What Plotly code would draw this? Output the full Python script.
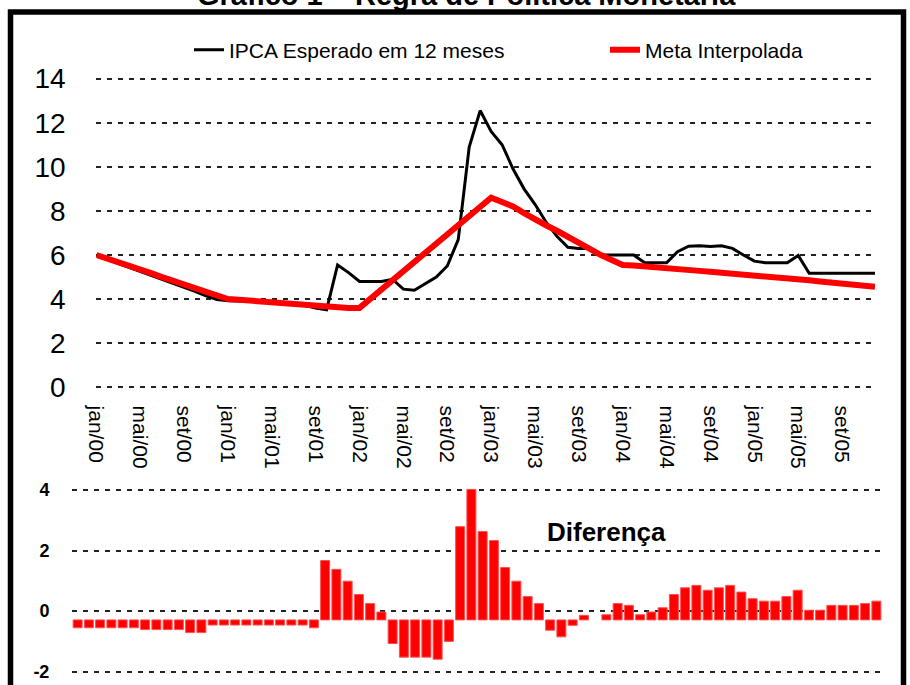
import plotly.graph_objects as go

# eixo de meses jan/00 .. dez/05
MESES = ['jan', 'fev', 'mar', 'abr', 'mai', 'jun', 'jul', 'ago', 'set', 'out', 'nov', 'dez']
ANOS = ['00', '01', '02', '03', '04', '05']
meses = [f'{m}/{a}' for a in ANOS for m in MESES]
rotulos = meses[::4]

# IPCA esperado em 12 meses
ipca = [5.98, 5.8, 5.62, 5.45, 5.28, 5.1, 4.9, 4.72, 4.55, 4.35, 4.15, 3.98,
        3.92, 3.92, 3.9, 3.88, 3.86, 3.82, 3.78, 3.72, 3.6, 3.52, 5.55, 5.2,
        4.8, 4.8, 4.8, 4.9, 4.45, 4.4, 4.7, 5.0, 5.5, 6.7, 10.9, 12.55,
        11.6, 11.0, 9.9, 9.0, 8.3, 7.5, 6.85, 6.35, 6.3, 6.3, 6.0, 6.0,
        6.0, 6.0, 5.65, 5.65, 5.65, 6.15, 6.4, 6.42, 6.38, 6.42, 6.3, 6.0,
        5.72, 5.65, 5.65, 5.65, 5.98, 5.17, 5.17, 5.17, 5.17, 5.17, 5.17, 5.17]

# meta interpolada
meta = [6.0, 5.85, 5.68, 5.5, 5.34, 5.18, 5.0, 4.84, 4.68, 4.5, 4.34, 4.18,
        4.0, 3.97, 3.93, 3.88, 3.85, 3.8, 3.76, 3.72, 3.68, 3.64, 3.6, 3.6,
        3.6, 4.02, 4.44, 4.86, 5.28, 5.7, 6.12, 6.54, 6.96, 7.38, 7.8, 8.2,
        8.6, 8.4, 8.2, 7.9, 7.6, 7.35, 7.1, 6.8, 6.55, 6.28, 6.0, 5.75,
        5.55, 5.52, 5.49, 5.45, 5.4, 5.36, 5.32, 5.28, 5.24, 5.2, 5.17, 5.14,
        5.11, 5.06, 5.0, 4.96, 4.9, 4.85, 4.8, 4.75, 4.7, 4.65, 4.6, 4.56]

# diferenca (painel de baixo)
diferenca = [-0.26, -0.26, -0.26, -0.26, -0.26, -0.26, -0.32, -0.32, -0.32, -0.32, -0.42, -0.42,
             -0.17, -0.17, -0.17, -0.17, -0.17, -0.17, -0.17, -0.17, -0.17, -0.26, 1.96, 1.67,
             1.28, 0.84, 0.54, 0.26, -0.78, -1.23, -1.23, -1.23, -1.3, -0.71, 3.08, 4.31,
             2.92, 2.62, 1.73, 1.28, 0.77, 0.54, -0.34, -0.56, -0.18, 0.15, None, 0.17,
             0.54, 0.48, 0.17, 0.26, 0.4, 0.84, 1.06, 1.14, 0.98, 1.06, 1.14, 0.92,
             0.7, 0.62, 0.62, 0.77, 0.98, 0.32, 0.32, 0.48, 0.48, 0.48, 0.54, 0.62]
dif_ticks = [-2, 0, 2, 4]

ARIAL = 'Liberation Sans, Arial, sans-serif'
W, H = 910, 685
# no original as barras partem um pouco abaixo da linha do zero
ZERO_BARRAS = -0.29
GRID = dict(showgrid=True, gridcolor='#222', gridwidth=2, griddash='5px,6px',
            zeroline=False, automargin=False)

fig = go.Figure()
fig.add_trace(go.Scatter(x=meses, y=ipca, name='IPCA Esperado em 12 meses', mode='lines',
                         xaxis='x', yaxis='y', line=dict(color='black', width=3)))
fig.add_trace(go.Scatter(x=meses, y=meta, name='Meta Interpolada', mode='lines',
                         xaxis='x', yaxis='y', line=dict(color='#ff0000', width=6)))
fig.add_trace(go.Bar(x=meses, y=diferenca, base=ZERO_BARRAS, xaxis='x2', yaxis='y2', showlegend=False,
                     marker=dict(color='#ff0000', line=dict(color='#ff5050', width=1))))

fig.update_layout(
    template='none',
    width=W, height=H, margin=dict(l=0, r=0, t=0, b=0, autoexpand=False),
    plot_bgcolor='white', paper_bgcolor='white', bargap=0.2,
    font=dict(family=ARIAL, color='black'),
    xaxis=dict(domain=[96.3 / W, 875 / W], anchor='y', type='category',
               tickmode='array', tickvals=rotulos, ticktext=rotulos, tickangle=90,
               ticks='outside', ticklen=12, tickcolor='rgba(0,0,0,0)',
               tickfont=dict(size=21), showgrid=False, showline=False, automargin=False),
    yaxis=dict(domain=[1 - 388.4 / H, 1 - 77.5 / H], anchor='x', range=[-0.05, 14.05],
               tickvals=[0, 2, 4, 6, 8, 10, 12, 14], ticks='outside', ticklen=24,
               tickcolor='rgba(0,0,0,0)', tickfont=dict(size=28), **GRID),
    xaxis2=dict(domain=[72 / W, 882 / W], anchor='y2', type='category',
                showticklabels=False, showgrid=False, showline=False, automargin=False),
    yaxis2=dict(domain=[1 - 674.7 / H, 1 - 487 / H], anchor='x2', range=[-2.1, 4.1],
                tickvals=dif_ticks, ticktext=[f'<b>{v}</b>' for v in dif_ticks],
                ticks='outside', ticklen=18, tickcolor='rgba(0,0,0,0)',
                tickfont=dict(size=18), **GRID),
    legend=dict(orientation='h', x=189 / W, y=1 - 50 / H, xanchor='left', yanchor='middle',
                entrywidth=371, entrywidthmode='pixels',
                bgcolor='rgba(0,0,0,0)', font=dict(size=21)),
)

fig.add_annotation(text='<b>Gráfico 1 – Regra de Política Monetária</b>', xref='paper', yref='paper',
                   x=467 / W, y=1 - 13 / H, xanchor='center', yanchor='bottom',
                   showarrow=False, font=dict(size=29))
fig.add_annotation(text='<b>Diferença</b>', xref='paper', yref='paper', x=606 / W, y=1 - 532 / H,
                   xanchor='center', yanchor='middle', showarrow=False, font=dict(size=26))

# moldura
fig.add_shape(type='rect', xref='paper', yref='paper', x0=10.5 / W, x1=903.5 / W,
              y0=-0.05, y1=1 - 12 / H, line=dict(color='black', width=5.5))

# sem a margem padrao do body, para a figura ocupar a janela inteira
fig.write_html('out.html', config={'displayModeBar': False},
               post_script="document.body.style.margin='0px';")
